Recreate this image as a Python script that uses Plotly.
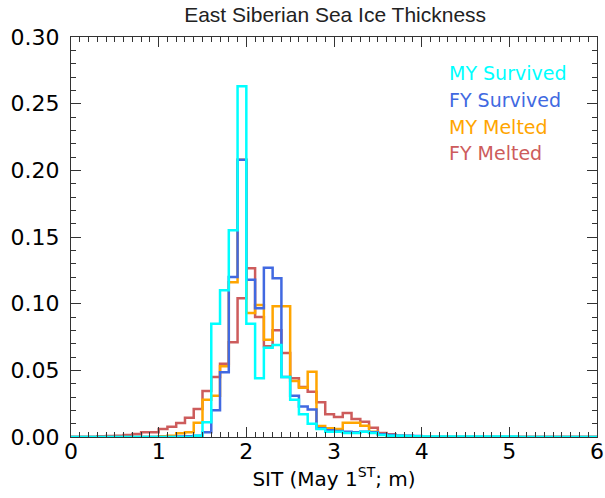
import numpy as np
import plotly.graph_objects as go

# Bin edges: 0.0 to 6.0 m in 0.1 m steps (60 bins)
bin_edges = [round(i * 0.1, 1) for i in range(61)]

# Relative frequency per bin (index i covers i*0.1 .. (i+1)*0.1)
my_survived = [0.0] * 14 + [
    0.001, 0.011, 0.085, 0.110, 0.155, 0.263, 0.085, 0.044, 0.067, 0.069,
    0.045, 0.028, 0.017, 0.010, 0.006, 0.004, 0.004, 0.003, 0.003, 0.004,
    0.003, 0.0015, 0.001, 0.001, 0.0008, 0.0005, 0.0003, 0.0003, 0.0003, 0.0003,
    0.0003, 0.0003, 0.0003, 0.0003, 0.0003, 0.0003, 0.0003,
] + [0.0] * 9

fy_survived = [0.0] * 12 + [
    0.0003, 0.0005, 0.001, 0.0035, 0.020, 0.0485, 0.120, 0.208, 0.118, 0.0965,
    0.127, 0.119, 0.045, 0.031, 0.0228, 0.0207, 0.0065, 0.005, 0.0045, 0.004,
    0.0035, 0.004, 0.0035, 0.002, 0.0015, 0.001, 0.001, 0.0008,
] + [0.0] * 20

my_melted = [0.0] * 10 + [
    0.0005, 0.001, 0.0028, 0.0035, 0.0107, 0.028, 0.031, 0.053, 0.116, 0.208,
    0.093, 0.099, 0.073, 0.098, 0.098, 0.042, 0.037, 0.049, 0.0083, 0.0065,
    0.006, 0.0107, 0.0107, 0.0085, 0.004, 0.002, 0.001,
] + [0.0] * 23

fy_melted = [0.0] * 3 + [
    0.0005, 0.0008, 0.001, 0.0015, 0.0022, 0.0035, 0.0035, 0.006, 0.0077, 0.0105,
    0.0145, 0.021, 0.0345, 0.045, 0.055, 0.071, 0.104, 0.1265, 0.090, 0.068,
    0.080, 0.063, 0.044, 0.0375, 0.034, 0.026, 0.017, 0.015, 0.018, 0.0135,
    0.0115, 0.007, 0.003, 0.002, 0.001, 0.0008, 0.0005,
] + [0.0] * 20

series = [
    ("FY Melted", fy_melted, "#cd5c5c"),
    ("MY Melted", my_melted, "#ffa500"),
    ("FY Survived", fy_survived, "#4169e1"),
    ("MY Survived", my_survived, "#00ffff"),
]

fig = go.Figure()
for name, vals, color in series:
    # step outline: each value held across its bin
    xs = bin_edges
    ys = list(vals) + [vals[-1]]
    fig.add_trace(go.Scatter(
        x=xs, y=ys, mode="lines", name=name,
        line=dict(color=color, width=2.5, shape="hv"),
        showlegend=False,
    ))

# coloured labels in the upper right
label_font = "DejaVu Sans"
for k, (name, _, color) in enumerate(reversed(series)):
    fig.add_annotation(
        x=0.715, y=0.91 - k * 0.067, xref="paper", yref="paper",
        xanchor="left", yanchor="middle", showarrow=False,
        text=name, font=dict(family=label_font, size=19, color=color),
    )

axis_common = dict(
    showgrid=False, zeroline=False, showline=True, linecolor="#333333",
    linewidth=1, mirror="ticks", ticks="inside", tickcolor="#333333",
    tickwidth=1, automargin=False,
    tickfont=dict(family="DejaVu Sans", size=22, color="#000000"),
)

fig.update_xaxes(
    range=[0, 6], dtick=1, tick0=0, ticklen=10,
    ticklabelstandoff=-5,
    minor=dict(dtick=0.1, ticks="inside", ticklen=5, tickcolor="#333333"),
    title=dict(text="SIT (May 1<sup>ST</sup>; m)",
               font=dict(family="DejaVu Sans", size=20, color="#000000"),
               standoff=2),
    **axis_common,
)
fig.update_yaxes(
    range=[0, 0.30], dtick=0.05, tick0=0, ticklen=10, tickformat=".2f",
    ticklabelstandoff=6,
    minor=dict(dtick=0.01, ticks="inside", ticklen=5, tickcolor="#333333"),
    **axis_common,
)

fig.update_layout(
    width=605, height=498,
    margin=dict(l=71, r=8, t=37, b=61),
    paper_bgcolor="white", plot_bgcolor="white",
    title=dict(text="East Siberian Sea Ice Thickness", x=0.554, xanchor="center",
               y=0.97, yanchor="middle",
               font=dict(family="Liberation Sans", size=21, color="#222222")),
)

fig.write_html("out.html")
